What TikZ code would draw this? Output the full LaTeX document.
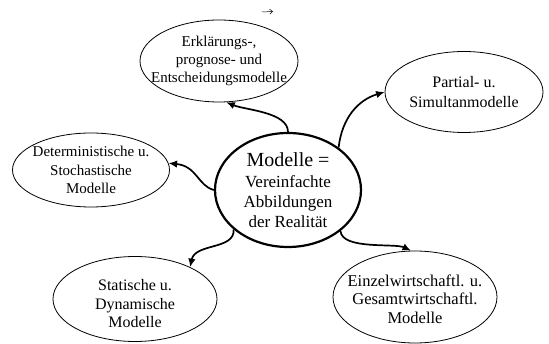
\documentclass[tikz,border=0pt]{standalone}
\usepackage{fontspec}
\setmainfont{Liberation Serif}
\usetikzlibrary{shapes.geometric,arrows.meta}
\tikzset{
  outerell/.style={ellipse, draw, line width=0.8pt, inner sep=0pt},
  centerell/.style={ellipse, draw, line width=2.2pt, inner sep=0pt},
  lbl/.style={align=center, inner sep=0pt},
  conn/.style={line width=1.7pt, -{Latex[length=8.5pt,width=7.5pt]}},
  stray/.style={line width=0.5pt, -{Straight Barb[length=3pt,width=5pt]}}
}
\begin{document}
\begin{tikzpicture}[x=1pt,y=-1pt]
\useasboundingbox (0,0) rectangle (549,344);
% ellipses
\node[centerell, minimum width=146pt, minimum height=114pt] (c) at (288,190) {};
\node[outerell, minimum width=158pt, minimum height=82pt] (top) at (219,61) {};
\node[outerell, minimum width=158pt, minimum height=81pt] (right) at (464,92) {};
\node[outerell, minimum width=157pt, minimum height=74pt] (left) at (91,170) {};
\node[outerell, minimum width=164pt, minimum height=85pt] (bl) at (135,299) {};
\node[outerell, minimum width=164pt, minimum height=92pt] (br) at (415,297) {};
% texts
\node[lbl, font=\fontsize{17}{20}\selectfont] (ct) at (288,190) {{\fontsize{20}{24}\selectfont Modelle =}\\[1pt]Vereinfachte\\Abbildungen\\der Realität};
\node[lbl, font=\fontsize{15}{18}\selectfont] (topt) at (219,61) {Erklärungs-,\\prognose- und\\Entscheidungsmodelle};
\node[lbl, font=\fontsize{16}{20}\selectfont] (rightt) at (464,92) {Partial- u.\\Simultanmodelle};
\node[lbl, font=\fontsize{15}{18.5}\selectfont] (leftt) at (91,170) {Deterministische u.\\Stochastische\\Modelle};
\node[lbl, font=\fontsize{16}{18.5}\selectfont] (blt) at (135,304) {Statische u.\\Dynamische\\Modelle};
\node[lbl, font=\fontsize{16.5}{18.5}\selectfont] (brt) at (415,299) {Einzelwirtschaftl. u.\\Gesamtwirtschaftl.\\Modelle};
% connectors
\draw[conn] (c.north) .. controls (288,112) and (245,110) .. (top.-80);
\draw[conn] (c.40) .. controls (342,118) and (358,100) .. (right.west);
\draw[conn] (c.west) .. controls (198,186) and (197,166) .. (left.5);
\draw[conn] (c.216) .. controls (235,250) and (195,243) .. (bl.30);
\draw[conn] (c.-38) .. controls (342,250) and (395,243) .. (br.95);
% stray arrow
\coordinate (s1) at (262,12);
\coordinate (s2) at (273,11.5);
\draw[stray] (s1) -- (s2);
\end{tikzpicture}
\end{document}
